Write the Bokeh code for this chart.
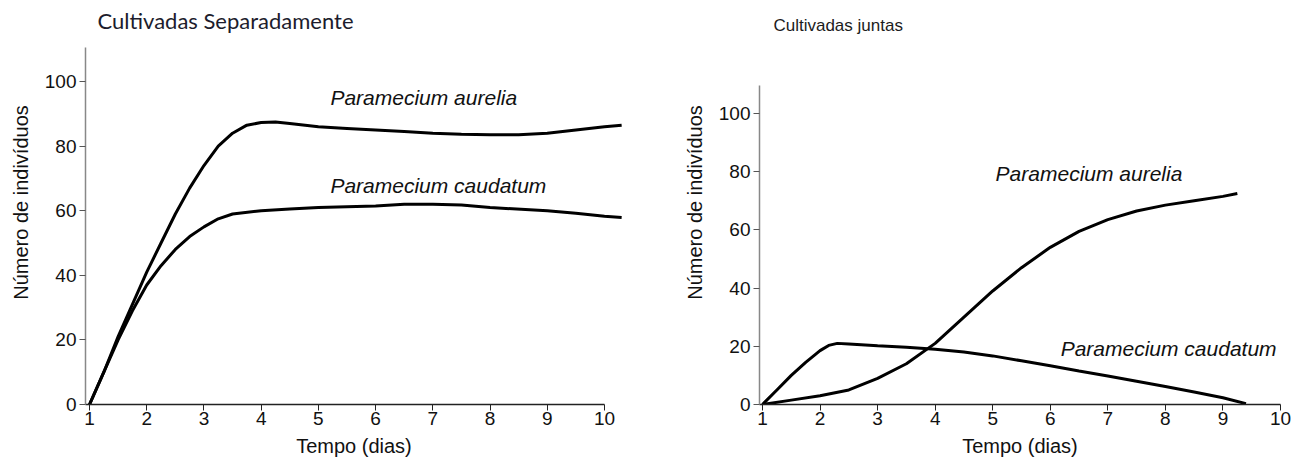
from bokeh.plotting import figure
from bokeh.layouts import row
from bokeh.models import Range1d, FixedTicker
from bokeh.core.properties import value
from bokeh.embed import file_html
from bokeh.resources import INLINE

# ---- data: Cultivadas Separadamente ----
sep_aurelia_x = [1, 1.25, 1.5, 1.75, 2, 2.25, 2.5, 2.75, 3, 3.25, 3.5, 3.75, 4, 4.25, 4.5, 5, 5.5, 6, 6.5, 7, 7.5, 8, 8.5, 9, 9.5, 10, 10.3]
sep_aurelia_y = [0, 10, 21, 31, 41, 50, 59, 67, 74, 80, 84, 86.5, 87.3, 87.5, 87, 86, 85.5, 85, 84.5, 84, 83.7, 83.5, 83.5, 84, 85, 86, 86.5]
sep_caudatum_x = [1, 1.25, 1.5, 1.75, 2, 2.25, 2.5, 2.75, 3, 3.25, 3.5, 4, 4.5, 5, 6, 6.5, 7, 7.5, 8, 9, 9.5, 10, 10.3]
sep_caudatum_y = [0, 10, 20, 29, 37, 43, 48, 52, 55, 57.5, 59, 60, 60.5, 61, 61.5, 62, 62, 61.8, 61, 60, 59.2, 58.3, 57.9]

# ---- data: Cultivadas juntas ----
jun_aurelia_x = [1, 1.5, 2, 2.5, 3, 3.5, 4, 4.5, 5, 5.5, 6, 6.5, 7, 7.5, 8, 8.5, 9, 9.25]
jun_aurelia_y = [0, 1.5, 3, 5, 9, 14, 21, 30, 39, 47, 54, 59.5, 63.5, 66.5, 68.5, 70, 71.5, 72.5]
jun_caudatum_x = [1, 1.25, 1.5, 1.75, 2, 2.15, 2.3, 2.5, 3, 3.5, 4, 4.5, 5, 5.5, 6, 6.5, 7, 7.5, 8, 8.5, 9, 9.4]
jun_caudatum_y = [0, 5, 10, 14.5, 18.5, 20.3, 21, 20.8, 20.2, 19.7, 19, 18, 16.7, 15, 13.3, 11.5, 9.8, 8, 6.2, 4.3, 2.3, 0.3]

x_ticks = [1, 2, 3, 4, 5, 6, 7, 8, 9, 10]
y_ticks = [0, 20, 40, 60, 80, 100]

title_left = "Cultivadas Separadamente"
title_right = "Cultivadas juntas"
x_label = "Tempo (dias)"
y_label = "Número de indivíduos"
name_aurelia = "Paramecium aurelia"
name_caudatum = "Paramecium caudatum"

FONT = "Liberation Sans"


def style(p, x0, ytop):
    p.outline_line_color = None
    p.grid.visible = False
    p.background_fill_color = "white"
    p.border_fill_color = "white"
    p.xaxis.ticker = FixedTicker(ticks=x_ticks)
    p.yaxis.ticker = FixedTicker(ticks=y_ticks)
    p.xaxis.bounds = (x0, 10)
    p.yaxis.bounds = (0, ytop)
    for ax in (p.xaxis, p.yaxis):
        ax.major_label_text_font = FONT
        ax.major_label_text_font_size = "19px"
        ax.major_label_text_color = "#111111"
        ax.axis_label_text_font = FONT
        ax.axis_label_text_font_size = "20px"
        ax.axis_label_text_font_style = "normal"
        ax.axis_label_text_color = "#111111"
        ax.minor_tick_line_color = None
        ax.major_tick_in = 0
        ax.major_tick_out = 6
    p.yaxis.major_label_standoff = 3
    p.xaxis.major_label_standoff = 1
    p.xaxis.axis_line_color = "#222222"
    p.xaxis.major_tick_line_color = "#222222"
    p.xaxis.axis_line_width = 1.5
    p.yaxis.axis_line_color = "#888888"
    p.yaxis.major_tick_line_color = "#555555"
    p.yaxis.axis_line_width = 1.5
    p.xaxis.axis_label = x_label
    p.yaxis.axis_label = y_label
    p.xaxis.axis_label_standoff = 7
    p.yaxis.axis_label_standoff = 10


def curve_label(p, x, y, txt):
    p.text(x=[x], y=[y], text=[txt], text_font=value(FONT), text_font_style="italic",
           text_font_size="21px", text_baseline="middle", text_align="left", text_color="#111111")


H = 463

p1 = figure(width=651, height=H, output_backend="svg", toolbar_location=None,
            x_range=Range1d(0.930, 10.315), y_range=Range1d(0, 125.1),
            min_border_left=85, min_border_right=29, min_border_top=0, min_border_bottom=H - 404)
style(p1, 0.930, 110.5)
p1.line(sep_aurelia_x, sep_aurelia_y, line_color="black", line_width=3)
p1.line(sep_caudatum_x, sep_caudatum_y, line_color="black", line_width=3)
curve_label(p1, 5.21, 95, name_aurelia)
curve_label(p1, 5.21, 67.8, name_caudatum)
p1.text(x=[1.14], y=[118.9], text=[title_left], text_font=value("Lato"), text_font_size="22px",
        text_baseline="middle", text_align="left", text_color="#1c1c2c")

p2 = figure(width=649, height=H, output_backend="svg", toolbar_location=None,
            x_range=Range1d(0.948, 10), y_range=Range1d(0, 138.8),
            min_border_left=108, min_border_right=20, min_border_top=0, min_border_bottom=H - 404)
style(p2, 0.948, 109.6)
p2.line(jun_aurelia_x, jun_aurelia_y, line_color="black", line_width=3)
p2.line(jun_caudatum_x, jun_caudatum_y, line_color="black", line_width=3)
curve_label(p2, 5.05, 79.4, name_aurelia)
curve_label(p2, 6.18, 19.2, name_caudatum)
p2.text(x=[1.19], y=[130.2], text=[title_right], text_font=value(FONT), text_font_size="17px",
        text_baseline="middle", text_align="left", text_color="#1c1c1c")

layout = row(p1, p2)
open("out.html", "w").write(file_html(layout, INLINE))
